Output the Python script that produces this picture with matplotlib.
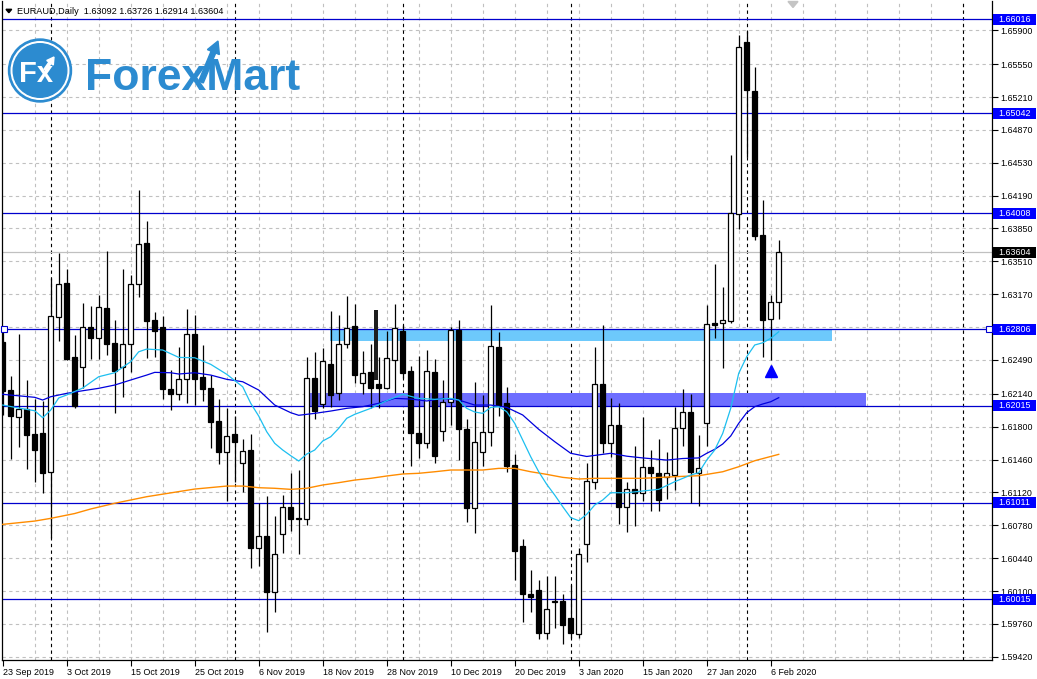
import numpy as np
import matplotlib
matplotlib.use("Agg")
import matplotlib.pyplot as plt
from matplotlib.patches import Rectangle, Circle, Polygon, FancyArrow
from matplotlib.transforms import blended_transform_factory

plt.rcParams['font.family'] = ['Liberation Sans', 'DejaVu Sans']

# EURAUD daily candles, 23 Sep 2019 .. 7 Feb 2020
opens = [1.62673, 1.62179, 1.61903, 1.61983, 1.61724, 1.61735, 1.61334, 1.62937, 1.63283, 1.62517,
         1.62420, 1.62828, 1.62720, 1.63027, 1.62662, 1.62420, 1.62652, 1.63272, 1.63700, 1.62900,
         1.62831, 1.62193, 1.62142, 1.62290, 1.62758, 1.62317, 1.62203, 1.61859, 1.61541, 1.61724,
         1.61424, 1.61563, 1.60548, 1.60665, 1.60093, 1.60693, 1.60966, 1.60848, 1.60848, 1.62300,
         1.62035, 1.62445, 1.62152, 1.62652, 1.62841, 1.62255, 1.62368, 1.62241, 1.62203, 1.62490,
         1.62789, 1.62376, 1.61731, 1.61628, 1.62365, 1.61752, 1.62059, 1.62800, 1.61776, 1.60956,
         1.61541, 1.61741, 1.62621, 1.62042, 1.61403, 1.60566, 1.60070, 1.60112, 1.59671, 1.59991,
         1.59998, 1.59821, 1.59657, 1.60584, 1.61232, 1.62238, 1.61635, 1.61817, 1.60972, 1.61155,
         1.61117, 1.61383, 1.61321, 1.61280, 1.61300, 1.61783, 1.61952, 1.61324, 1.61838, 1.62869,
         1.62875, 1.62893, 1.63996, 1.65784, 1.65272, 1.63783, 1.62910, 1.63092]
highs = [1.62800, 1.62324, 1.62758, 1.62283, 1.62085, 1.62069, 1.63334, 1.63599, 1.63431, 1.62748,
         1.63076, 1.63048, 1.63162, 1.63617, 1.62903, 1.63431, 1.63369, 1.64248, 1.63923, 1.62983,
         1.62945, 1.62386, 1.62627, 1.63017, 1.62958, 1.62645, 1.62334, 1.62086, 1.61996, 1.61907,
         1.61677, 1.61724, 1.61008, 1.61083, 1.60876, 1.61093, 1.61324, 1.61357, 1.62524, 1.62577,
         1.62614, 1.62996, 1.62955, 1.63151, 1.63066, 1.62583, 1.62652, 1.62524, 1.62789, 1.63069,
         1.62848, 1.62427, 1.62531, 1.62593, 1.62497, 1.62283, 1.62828, 1.62903, 1.61883, 1.62262,
         1.62128, 1.63058, 1.62779, 1.62207, 1.61521, 1.60635, 1.60318, 1.60211, 1.60257, 1.60257,
         1.60070, 1.60166, 1.60544, 1.61422, 1.62621, 1.62848, 1.62093, 1.62042, 1.61224, 1.61600,
         1.61903, 1.61559, 1.61669, 1.61538, 1.62007, 1.62193, 1.62142, 1.61710, 1.63058, 1.63482,
         1.63248, 1.64610, 1.65851, 1.65888, 1.65517, 1.64144, 1.63162, 1.63726]
lows = [1.61921, 1.61463, 1.61593, 1.61359, 1.61231, 1.61111, 1.60650, 1.62689, 1.62490, 1.61996,
        1.62197, 1.62497, 1.62500, 1.62541, 1.61941, 1.62103, 1.62368, 1.63144, 1.62507, 1.62524,
        1.62090, 1.61972, 1.62076, 1.62042, 1.62024, 1.62069, 1.61576, 1.61411, 1.61035, 1.61224,
        1.61124, 1.60342, 1.60358, 1.59673, 1.59885, 1.60497, 1.60724, 1.60483, 1.60783, 1.61883,
        1.61996, 1.62007, 1.62076, 1.62614, 1.62255, 1.62142, 1.61993, 1.61993, 1.62186, 1.62148,
        1.62303, 1.61396, 1.61479, 1.61576, 1.61422, 1.61656, 1.61817, 1.61455, 1.60817, 1.60700,
        1.61396, 1.61600, 1.61907, 1.61328, 1.60211, 1.59784, 1.59887, 1.59602, 1.59602, 1.59720,
        1.59549, 1.59615, 1.59615, 1.60396, 1.61154, 1.61525, 1.61490, 1.60794, 1.60714, 1.60776,
        1.61035, 1.60931, 1.60931, 1.61052, 1.61145, 1.61600, 1.61008, 1.60983, 1.61600, 1.62720,
        1.62410, 1.62875, 1.63844, 1.64589, 1.63731, 1.62524, 1.62490, 1.62914]
closes = [1.62172, 1.61913, 1.61983, 1.61710, 1.61559, 1.61324, 1.62945, 1.63272, 1.62500, 1.62017,
          1.62828, 1.62720, 1.63035, 1.62658, 1.62379, 1.62652, 1.63272, 1.63689, 1.62896, 1.62793,
          1.62186, 1.62142, 1.62290, 1.62754, 1.62296, 1.62193, 1.61851, 1.61541, 1.61707, 1.61638,
          1.61553, 1.60544, 1.60665, 1.60093, 1.60486, 1.60966, 1.60848, 1.60851, 1.62300, 1.61961,
          1.62479, 1.62132, 1.62652, 1.62824, 1.62334, 1.62352, 1.62203, 1.62203, 1.62507, 1.62817,
          1.62359, 1.61731, 1.61635, 1.62376, 1.61500, 1.62059, 1.62800, 1.61773, 1.60956, 1.61639,
          1.61741, 1.62634, 1.62024, 1.61396, 1.60517, 1.60067, 1.60036, 1.59671, 1.59911, 1.59998,
          1.59753, 1.59671, 1.60486, 1.61240, 1.62238, 1.61635, 1.61817, 1.60972, 1.61154, 1.61117,
          1.61383, 1.61324, 1.61042, 1.61321, 1.61783, 1.61952, 1.61334, 1.61369, 1.62862, 1.62848,
          1.62903, 1.64006, 1.65726, 1.65282, 1.63772, 1.62903, 1.63086, 1.63604]

date_labels = ["23 Sep 2019", "3 Oct 2019", "15 Oct 2019", "25 Oct 2019", "6 Nov 2019",
               "18 Nov 2019", "28 Nov 2019", "10 Dec 2019", "20 Dec 2019", "3 Jan 2020",
               "15 Jan 2020", "27 Jan 2020", "6 Feb 2020"]
date_label_idx = [0, 8, 16, 24, 32, 40, 48, 56, 64, 72, 80, 88, 96]
month_sep_idx = [6, 29, 50, 71, 93, 120]

price_ticks = [1.65900, 1.65550, 1.65210, 1.64870, 1.64530, 1.64190, 1.63850, 1.63510, 1.63170,
               1.62830, 1.62490, 1.62140, 1.61800, 1.61460, 1.61120, 1.60780, 1.60440, 1.60100,
               1.59760, 1.59420]
level_prices = [1.66016, 1.65042, 1.64008, 1.62806, 1.62015, 1.61011, 1.60015]
bid_price = 1.63604

# moving averages
fast_idx = [0, 2, 4, 5, 6, 7, 8, 10, 12, 14, 16, 17, 18, 20, 22, 24, 26, 28, 30, 31, 32, 33, 34, 35,
            36, 37, 38, 39, 40, 41, 42, 43, 44, 46, 48, 50, 52, 54, 56, 57, 58, 59, 60, 61, 62, 63,
            64, 65, 66, 67, 68, 69, 70, 71, 72, 73, 74, 75, 76, 78, 80, 82, 84, 86, 87, 88, 89, 90,
            91, 92, 93, 94, 95, 96, 97]
fast_ma = [1.62024, 1.61993, 1.61965, 1.61893, 1.61972, 1.62097, 1.62128, 1.62200, 1.62317, 1.62358,
           1.62472, 1.62575, 1.62603, 1.62593, 1.62517, 1.62513, 1.62445, 1.62342, 1.62213, 1.62042,
           1.61910, 1.61748, 1.61628, 1.61559, 1.61500, 1.61445, 1.61517, 1.61559, 1.61652, 1.61696,
           1.61783, 1.61887, 1.61928, 1.61990, 1.62069, 1.62135, 1.62093, 1.62083, 1.62093, 1.62076,
           1.61990, 1.61952, 1.61938, 1.62000, 1.62007, 1.61955, 1.61835, 1.61662, 1.61489, 1.61334,
           1.61204, 1.61093, 1.60973, 1.60859, 1.60828, 1.60894, 1.60990, 1.61042, 1.61117, 1.61117,
           1.61135, 1.61152, 1.61231, 1.61300, 1.61324, 1.61455, 1.61559, 1.61731, 1.61990, 1.62352,
           1.62524, 1.62645, 1.62668, 1.62714, 1.62782]
mid_idx = [0, 4, 5, 6, 8, 10, 12, 14, 16, 18, 19, 21, 22, 24, 26, 28, 30, 32, 34, 36, 37, 39, 41, 43,
           45, 47, 49, 51, 53, 55, 57, 59, 61, 63, 65, 67, 69, 71, 73, 76, 78, 80, 83, 85, 87, 88,
           89, 90, 91, 92, 93, 94, 95, 96, 97]
mid_ma = [1.62135, 1.62104, 1.62076, 1.62110, 1.62145, 1.62172, 1.62197, 1.62231, 1.62283, 1.62334,
          1.62362, 1.62358, 1.62345, 1.62358, 1.62334, 1.62290, 1.62265, 1.62179, 1.62024, 1.61945,
          1.61918, 1.61938, 1.61962, 1.61990, 1.62007, 1.62042, 1.62093, 1.62086, 1.62066, 1.62093,
          1.62076, 1.62024, 1.62024, 1.62000, 1.61921, 1.61773, 1.61645, 1.61525, 1.61492, 1.61525,
          1.61495, 1.61477, 1.61455, 1.61471, 1.61477, 1.61525, 1.61566, 1.61621, 1.61704, 1.61835,
          1.61945, 1.62007, 1.62035, 1.62058, 1.62100]
slow_idx = [0, 4, 6, 9, 11, 14, 18, 24, 28, 30, 32, 34, 36, 38, 40, 42, 44, 46, 48, 50, 52, 54, 56,
            58, 60, 62, 64, 66, 68, 70, 72, 74, 76, 80, 84, 87, 90, 92, 94, 97]
slow_ma = [1.60790, 1.60824, 1.60852, 1.60902, 1.60949, 1.61008, 1.61076, 1.61155, 1.61186, 1.61186,
           1.61169, 1.61163, 1.61152, 1.61163, 1.61197, 1.61221, 1.61248, 1.61266, 1.61290, 1.61311,
           1.61318, 1.61334, 1.61352, 1.61352, 1.61352, 1.61369, 1.61369, 1.61334, 1.61307, 1.61276,
           1.61259, 1.61266, 1.61266, 1.61266, 1.61283, 1.61293, 1.61334, 1.61386, 1.61448, 1.61514]

# drawn objects: (first bar, last bar, low price, high price)
zone_light = (40.9, 103.7, 1.62689, 1.62807)
zone_dark = (38.2, 107.9, 1.62015, 1.62145)
dark_bar = (46.4, 46.9, 1.62283, 1.63007)
signal_idx, signal_price = 96, 1.62371

W, H = 1037, 679
fig = plt.figure(figsize=(W / 100, H / 100), dpi=100, facecolor='white')
ax = fig.add_axes([2 / W, 19 / H, 990 / W, 659 / H])
ax.set_xlim(-0.09, 123.66)
ax.set_ylim(1.59387, 1.66203)
px = (1.66203 - 1.59387) / 659  # price per pixel

grid_c = '#C0C0C0'
for p in price_ticks:
    ax.axhline(p, color=grid_c, lw=0.8, ls=(0, (3, 3)), zorder=0.2)
for g in range(4, 124, 4):
    ax.axvline(g, color=grid_c, lw=0.8, ls=(0, (3, 3)), zorder=0.2)
for s in month_sep_idx:
    ax.axvline(s, color='black', lw=0.8, ls=(0, (3, 3)), zorder=0.3)

for (x0, x1, y0, y1), col in [(zone_light, '#6DC9FB'), (zone_dark, '#6E6EFF')]:
    ax.add_patch(Rectangle((x0, y0), x1 - x0, y1 - y0, facecolor=col, edgecolor='none', zorder=0.5))

ax.axhline(bid_price, color='#C0C0C0', lw=0.9, zorder=0.6)
for p in level_prices:
    ax.axhline(p, color='#0000CD', lw=0.9, zorder=1)
ax.plot([0.16, 123.3], [level_prices[3]] * 2, ls='none', marker='s', ms=4, mfc='white',
        mec='#0000CD', mew=0.8, clip_on=False, zorder=6)

o, h, l, c = map(np.array, (opens, highs, lows, closes))
idx = np.arange(len(o))
up = c >= o
ax.vlines(idx, l, h, color='black', lw=0.9, zorder=3)
body_lo = np.minimum(o, c)
body_h = np.maximum(np.abs(c - o), px * 0.6)
ax.bar(idx[up], body_h[up], bottom=body_lo[up], width=0.6, color='white',
       edgecolor='black', linewidth=0.9, zorder=4)
ax.bar(idx[~up], body_h[~up], bottom=body_lo[~up], width=0.6, color='black',
       edgecolor='black', linewidth=0.9, zorder=4)
bx0, bx1, by0, by1 = dark_bar
ax.add_patch(Rectangle((bx0, by0), bx1 - bx0, by1 - by0, facecolor='#1E1E1E', edgecolor='none', zorder=4))

ax.plot(slow_idx, slow_ma, color='#FF8C00', lw=1.0, zorder=5)
ax.plot(mid_idx, mid_ma, color='#0000DD', lw=0.9, zorder=5)
ax.plot(fast_idx, fast_ma, color='#1CBFF0', lw=0.9, zorder=5)
ax.plot([signal_idx], [signal_price], marker='^', ms=9, color='#0000FF', ls='none', zorder=6)

# axes, ticks
for side in ('left', 'bottom', 'right'):
    ax.spines[side].set_linewidth(0.9)
ax.spines['top'].set_visible(False)
ax.yaxis.tick_right()
ax.set_yticks(price_ticks)
ax.set_yticklabels(['' if abs(p - 1.62830) < 1e-6 else f'{p:.5f}' for p in price_ticks])
ax.set_xticks(date_label_idx)
ax.set_xticklabels(date_labels, ha='left')
ax.tick_params(axis='y', right=True, left=False, length=4, width=0.8, pad=2, labelsize=6.4)
ax.tick_params(axis='x', length=4, width=0.8, pad=1.5, labelsize=6.4)
for lbl in ax.get_xticklabels():
    lbl.set_x(0)

# price labels on the right scale
lab_tr = blended_transform_factory(fig.transFigure, ax.transData)
for p, fc in [(q, '#0000FF') for q in level_prices] + [(bid_price, 'black')]:
    fig.add_artist(Rectangle((993 / W, p - 5.5 * px), 43 / W, 11 * px, transform=lab_tr,
                             facecolor=fc, edgecolor='none', zorder=5))
    fig.text(998 / W, p, f'{p:.5f}', transform=lab_tr, color='white', fontsize=6.4,
             ha='left', va='center', zorder=6)

# overlay for header and logo
ov = fig.add_axes([0, 0, 1, 1], zorder=3)
ov.set_xlim(0, W)
ov.set_ylim(H, 0)
ov.axis('off')
ov.patch.set_visible(False)

ov.add_patch(Polygon([(6, 9.3), (11.7, 9.3), (8.85, 12.7)], closed=True, color='black'))
ov.text(17, 11, 'EURAUD,Daily  1.63092 1.63726 1.62914 1.63604', fontsize=6.6,
        ha='left', va='center', color='black')
ov.add_patch(Polygon([(788, 1.5), (798, 1.5), (793, 7.5)], closed=True, color='#C4C4C4'))

logo = '#2C8BD0'
ov.add_patch(Circle((40, 70.5), 31.5, color=logo))
ov.add_patch(Circle((40, 70.5), 28.8, color='white'))
ov.add_patch(Circle((40, 70.5), 26.8, color=logo))
ov.text(36, 82, 'Fx', color='white', fontsize=21, fontweight='bold', ha='center', va='baseline')
ov.add_patch(FancyArrow(45, 70, 9, -13, width=2.6, head_width=8, head_length=7,
                        length_includes_head=True, color='white'))
ov.text(85, 89.5, 'ForexMart', color=logo, fontsize=32, fontweight='bold', ha='left', va='baseline')
ov.add_patch(FancyArrow(201, 82, 17, -41, width=5, head_width=13, head_length=12,
                        length_includes_head=True, color=logo))

fig.savefig('out.png', dpi=100, facecolor='white')
